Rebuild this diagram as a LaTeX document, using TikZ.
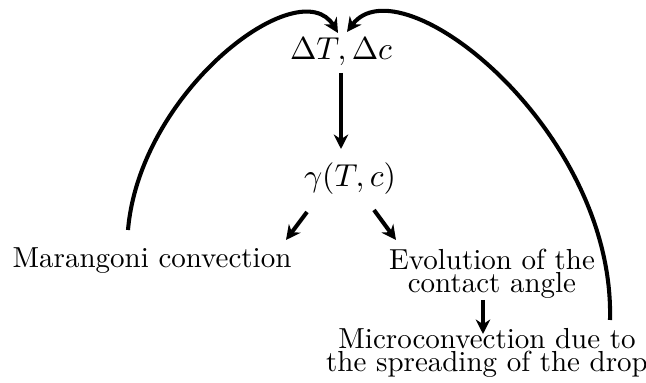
\documentclass[tikz,border=0pt]{standalone}
\usetikzlibrary{arrows.meta}
\begin{document}
\begin{tikzpicture}[x=0.345pt,y=-0.345pt,
  lbl/.style={inner sep=0pt,align=center,font=\fontsize{10}{8.1}\selectfont},
  mth/.style={inner sep=0pt,font=\fontsize{10.7}{12}\selectfont},
  arr/.style={line width=1.4pt,-{Stealth[length=5pt,width=5pt]}}]
\useasboundingbox (0,0) rectangle (646,383);
\node[mth] (dT) at (341,52) {$\Delta T, \Delta c$};
\node[mth] (gam) at (350,179) {$\gamma(T,c)$};
\node[lbl] (mar) at (152,261) {Marangoni convection};
\node[lbl] (evo) at (492,274) {Evolution of the\\contact angle};
\node[lbl] (mic) at (487,353) {Microconvection due to\\the spreading of the drop};
\coordinate (dtl) at (338,33);
\coordinate (dtr) at (347,32);
\coordinate (ml) at (128,230);
\coordinate (mr) at (610,320);
\coordinate (g1) at (307,212);
\coordinate (g2) at (374,210);
\coordinate (e1) at (483,300);
\draw[arr] (341,73) -- (341,149);
\draw[arr] (g1) -- (286,240);
\draw[arr] (g2) -- (396,240);
\draw[arr] (e1) -- (483,334);
\draw[arr] (ml) .. controls (140,90) and (300,-30) .. (dtl);
\draw[arr] (mr) .. controls (615,130) and (400,-40) .. (dtr);
\end{tikzpicture}
\end{document}
